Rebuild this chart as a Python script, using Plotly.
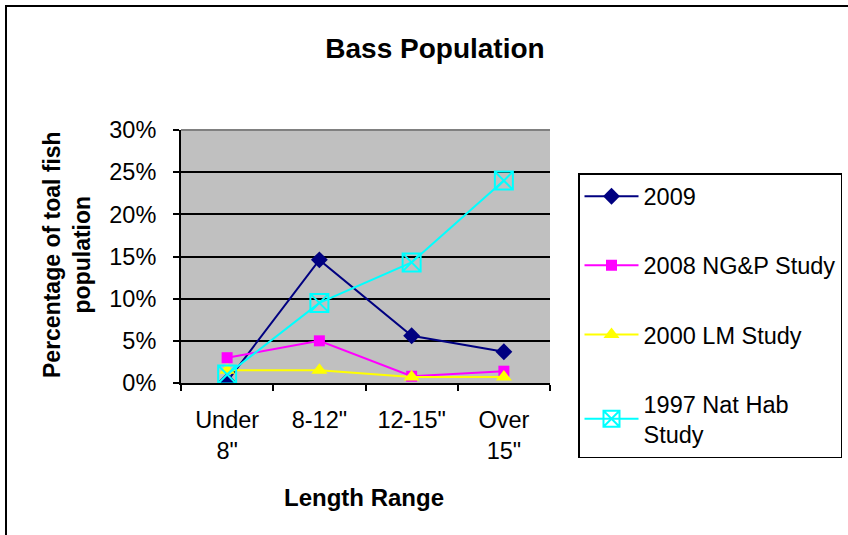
import plotly.graph_objects as go

categories = ["Under<br>8\"", "8-12\"", "12-15\"", "Over<br>15\""]
s2009 = [0.002, 0.146, 0.056, 0.037]
s2008 = [0.030, 0.050, 0.008, 0.014]
s2000 = [0.015, 0.015, 0.007, 0.007]
s1997 = [0.010, 0.095, 0.143, 0.240]
names = ["2009", "2008 NG&P Study", "2000 LM Study", "1997 Nat Hab<br>Study"]
ytick_vals = [0, 0.05, 0.10, 0.15, 0.20, 0.25, 0.30]
ytick_text = ["0%", "5%", "10%", "15%", "20%", "25%", "30%"]

FONT = "Liberation Sans, Arial, sans-serif"

W, H = 848, 535
PL, PR, PT, PB = 181, 550, 130, 383  # plot area in window px
pw, ph = PR - PL, PB - PT


def px(x):
    return (x - PL) / pw


def py(y):
    return (PB - y) / ph


fig = go.Figure()
styles = [
    (s2009, "#000080", "diamond", 13, 0),
    (s2008, "#FF00FF", "square", 11, 0),
    (s2000, "#FFFF00", "triangle-up", 14, 0),
    (s1997, "#00FFFF", "square-x-open", 18, 2),
]
for i, (vals, col, sym, sz, lw) in enumerate(styles):
    fig.add_trace(go.Scatter(
        x=categories, y=vals, name=names[i], mode="lines+markers",
        line=dict(color=col, width=2),
        marker=dict(symbol=sym, size=sz, color=col, line=dict(color=col, width=lw)),
        legendgroup=str(i),
    ))

fig.update_layout(
    width=W, height=H,
    margin=dict(l=PL, r=W - PR, t=PT, b=H - PB, autoexpand=False),
    paper_bgcolor="white", plot_bgcolor="#C0C0C0",
    font=dict(family=FONT, size=23.5, color="black"),
    title=dict(text="<b>Bass Population</b>", font=dict(size=28, family=FONT),
               xref="paper", x=px(435), xanchor="center",
               yref="container", y=1 - 48 / H, yanchor="middle"),
    showlegend=True,
    legend=dict(x=px(578), y=py(173), xanchor="left", yanchor="top",
                bordercolor="black", borderwidth=1.5, bgcolor="white",
                font=dict(size=23.5, family=FONT), tracegroupgap=35.5,
                traceorder="grouped", itemwidth=54, maxheight=500),
    xaxis=dict(type="category", showline=True, linecolor="black", linewidth=2,
               ticks="outside", tickson="boundaries", ticklen=6, tickcolor="black",
               tickwidth=2, showgrid=False, range=[-0.5, 3.5],
               ticklabelstandoff=15,
               tickfont=dict(size=23.5, family=FONT)),
    yaxis=dict(range=[0, 0.30], tickvals=ytick_vals, ticktext=ytick_text,
               showline=True, linecolor="black", linewidth=2,
               ticks="outside", ticklen=6, tickcolor="black", tickwidth=2,
               gridcolor="black", gridwidth=1.5, zeroline=False,
               ticklabelstandoff=12,
               tickfont=dict(size=23.5, family=FONT)),
)

fig.add_shape(type="line", xref="paper", yref="paper", x0=0, x1=1, y0=1, y1=1,
              line=dict(color="#808080", width=2), layer="above")
# outer chart border (top and left edges visible)
fig.add_shape(type="line", xref="paper", yref="paper",
              x0=px(5), x1=px(860), y0=py(6), y1=py(6),
              line=dict(color="black", width=2), layer="above")
fig.add_shape(type="line", xref="paper", yref="paper",
              x0=px(6), x1=px(6), y0=py(5), y1=py(560),
              line=dict(color="black", width=2), layer="above")

fig.add_annotation(text="<b>Percentage of toal fish<br>population</b>",
                   xref="paper", yref="paper", x=px(67), y=py(255),
                   textangle=-90, showarrow=False, font=dict(size=23, family=FONT),
                   xanchor="center", yanchor="middle")
fig.add_annotation(text="<b>Length Range</b>", xref="paper", yref="paper",
                   x=px(364), y=py(497), showarrow=False,
                   font=dict(size=24, family=FONT), xanchor="center", yanchor="middle")

fig.write_html("out.html", config={"displayModeBar": False},
               post_script="document.body.style.margin='0px';"
                           "document.body.style.overflow='hidden';")
